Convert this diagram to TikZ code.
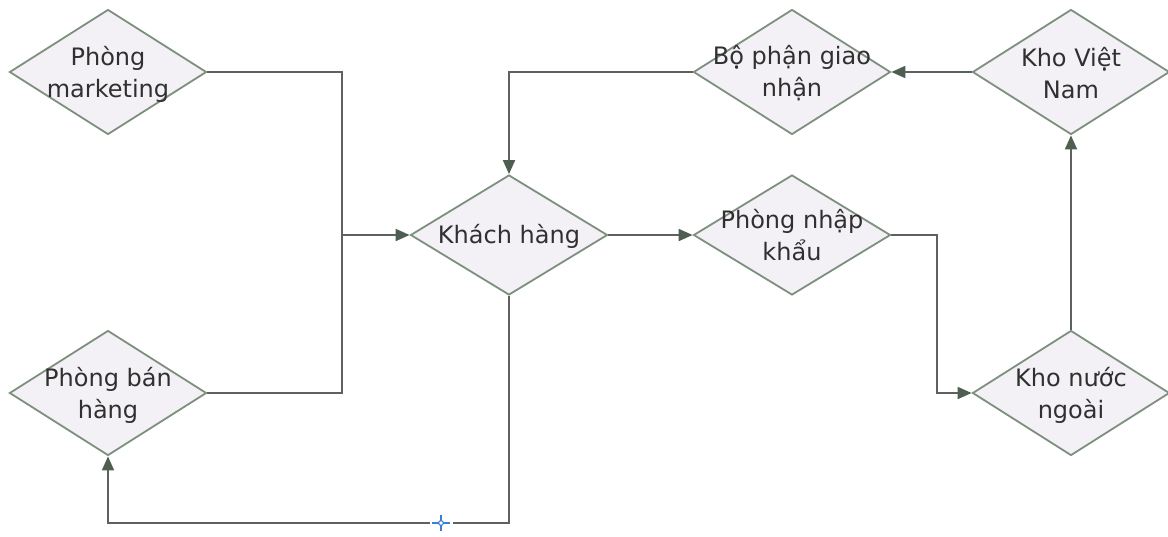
\documentclass[tikz,border=0pt]{standalone}
\usepackage{fontspec}
\setmainfont{DejaVu Sans}
\usetikzlibrary{shapes.geometric,arrows.meta}
\definecolor{diafill}{HTML}{F3F1F5}
\definecolor{diaborder}{HTML}{7E8F7E}
\definecolor{linecol}{HTML}{5E625E}
\definecolor{tipcol}{HTML}{4E5E50}
\definecolor{txtcol}{HTML}{303030}
\definecolor{markblue}{HTML}{3C7FD8}
\tikzset{
  dia/.style={diamond, draw=diaborder, fill=diafill, line width=1.8pt,
    minimum width=197pt, minimum height=125pt, inner sep=0pt},
  lbl/.style={align=center, text=txtcol, font=\fontsize{24pt}{32pt}\selectfont},
  conn/.style={draw=linecol, line width=1.9pt},
  arr/.style={-{Triangle[length=14pt,width=12pt,fill=tipcol,color=tipcol]}}
}
\begin{document}
\begin{tikzpicture}[x=1pt,y=-1pt]
\useasboundingbox (0,0) rectangle (1168,536);
% diamonds
\node[dia] (mk) at (108,72) {};
\node[lbl] at (108,74) {Phòng\\marketing};
\node[dia] (bh) at (108,393) {};
\node[lbl] at (108,395) {Phòng bán\\hàng};
\node[dia, minimum height=120pt] (kh) at (509,235) {};
\node[lbl] at (509,236) {Khách hàng};
\node[dia, minimum height=120pt] (nk) at (792,235) {};
\node[lbl] at (792,235) {Phòng nhập\\khẩu};
\node[dia] (bp) at (792,72) {};
\node[lbl] at (792,73) {Bộ phận giao\\nhận};
\node[dia] (kvn) at (1071,72) {};
\node[lbl] at (1071,73) {Kho Việt\\Nam};
\node[dia] (knn) at (1071,393) {};
\node[lbl] at (1071,395) {Kho nước\\ngoài};
% junctions
\coordinate (j1) at (342,235);
\coordinate (j2) at (937,393);
\coordinate (bot) at (0,523);
% connectors
\draw[conn,arr] (mk.east) -| (j1) -- (kh.west);
\draw[conn] (bh.east) -| (j1);
\draw[conn,arr] (kh.south) -- (kh.south |- bot) -- (bh.south |- bot) -- (bh.south);
\draw[conn,arr] (kh.east) -- (nk.west);
\draw[conn,arr] (nk.east) -| (j2) -- (knn.west);
\draw[conn,arr] (knn.north) -- (kvn.south);
\draw[conn,arr] (kvn.west) -- (bp.east);
\draw[conn,arr] (bp.west) -| (kh.north);
% blue marker
\coordinate (mkr) at (441,523);
\fill[white] ([xshift=-11pt,yshift=-3pt]mkr) rectangle ([xshift=12pt,yshift=3pt]mkr);
\draw[markblue, line width=1.3pt] ([xshift=-9pt]mkr) -- ([xshift=9pt]mkr);
\draw[markblue, line width=1.3pt] ([yshift=-8pt]mkr) -- ([yshift=8pt]mkr);
\draw[markblue, line width=1.1pt, fill=white] (mkr) circle (2.4pt);
\end{tikzpicture}
\end{document}
